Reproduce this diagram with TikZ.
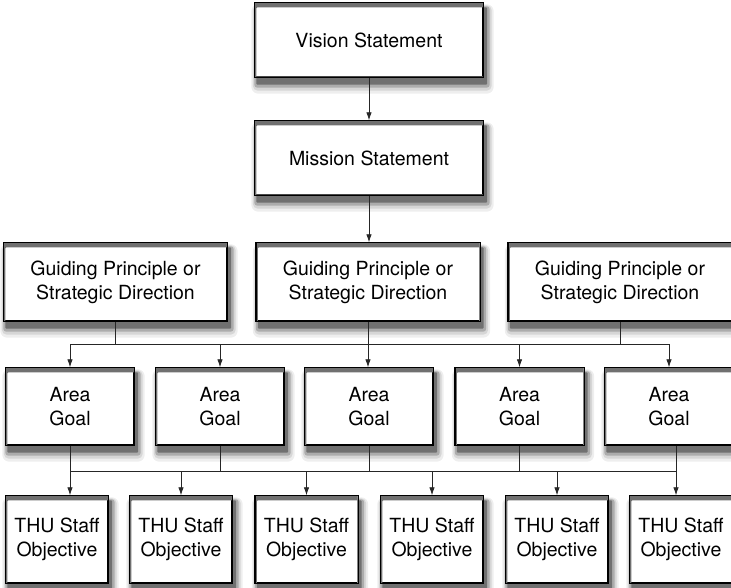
\documentclass[tikz,border=0pt]{standalone}
\usepackage{fontspec}
\setmainfont{TeX Gyre Heros}
\usetikzlibrary{arrows.meta}
\definecolor{shadeA}{RGB}{238,238,238}
\definecolor{shadeB}{RGB}{214,214,214}
\definecolor{shadeC}{RGB}{172,172,172}
\definecolor{shadeD}{RGB}{112,112,112}

\begin{document}
\begin{tikzpicture}[x=1pt, y=-1pt,
    box/.style={rectangle, draw, line width=1.4pt, fill=white, align=center,
        font=\fontsize{19.5}{24}\selectfont, inner sep=0pt},
    topbox/.style={box, minimum width=228pt, minimum height=74pt},
    gpbox/.style={box, minimum width=223pt, minimum height=78pt},
    areabox/.style={box, minimum width=128pt, minimum height=77pt},
    objbox/.style={box, minimum width=102pt, minimum height=87pt},
    link/.style={line width=0.8pt, black!85},
    arr/.style={link, -{Latex[length=8pt, width=5.5pt]}}]
    \useasboundingbox (0,0) rectangle (731,588);
    % top of the chain
    \node[topbox] (vision) at (369, 40) {Vision Statement};
    \node[topbox] (mission) at (369, 158) {Mission Statement};
    % guiding principles
    \node[gpbox] (gp1) at (115.5, 282) {Guiding Principle or\\Strategic Direction};
    \node[gpbox] (gp2) at (368, 282) {Guiding Principle or\\Strategic Direction};
    \node[gpbox] (gp3) at (620, 282) {Guiding Principle or\\Strategic Direction};
    % area goals
    \node[areabox] (a1) at (70, 406.5) {Area\\Goal};
    \node[areabox] (a2) at (220, 406.5) {Area\\Goal};
    \node[areabox] (a3) at (369, 406.5) {Area\\Goal};
    \node[areabox] (a4) at (519.5, 406.5) {Area\\Goal};
    \node[areabox] (a5) at (669, 406.5) {Area\\Goal};
    % staff objectives
    \node[objbox] (t1) at (57, 539.5) {THU Staff\\Objective};
    \node[objbox] (t2) at (181, 539.5) {THU Staff\\Objective};
    \node[objbox] (t3) at (306.5, 539.5) {THU Staff\\Objective};
    \node[objbox] (t4) at (432, 539.5) {THU Staff\\Objective};
    \node[objbox] (t5) at (557, 539.5) {THU Staff\\Objective};
    \node[objbox] (t6) at (681, 539.5) {THU Staff\\Objective};
    \coordinate (bus1) at (0, 344);
    \coordinate (bus2) at (0, 471);
    \coordinate (d6) at (676, 471);

    % soft shadows round the boxes (only outside each box)
    \foreach \n in {vision, mission, gp1, gp2, gp3, a1, a2, a3, a4, a5, t1, t2, t3, t4, t5, t6} {
        \fill[shadeA, even odd rule, rounded corners=7pt] ([shift={(-3,2)}]\n.north west) rectangle ([shift={(10,16)}]\n.south east)
            ([shift={(0.7,0.7)}]\n.north west) [sharp corners] rectangle ([shift={(-0.7,-0.7)}]\n.south east);
        \fill[shadeB, even odd rule, rounded corners=5pt] ([shift={(-1.5,3)}]\n.north west) rectangle ([shift={(8,13)}]\n.south east)
            ([shift={(0.7,0.7)}]\n.north west) [sharp corners] rectangle ([shift={(-0.7,-0.7)}]\n.south east);
        \fill[shadeC, even odd rule, rounded corners=3pt] ([shift={(0,4)}]\n.north west) rectangle ([shift={(6,10)}]\n.south east)
            ([shift={(0.7,0.7)}]\n.north west) [sharp corners] rectangle ([shift={(-0.7,-0.7)}]\n.south east);
        \fill[shadeD, even odd rule, rounded corners=1pt] ([shift={(2,5)}]\n.north west) rectangle ([shift={(3.5,7)}]\n.south east)
            ([shift={(0.7,0.7)}]\n.north west) [sharp corners] rectangle ([shift={(-0.7,-0.7)}]\n.south east);
        \draw[line width=1.4pt] (\n.north west) rectangle (\n.south east);
    }

    \draw[arr] (vision) -- (mission);
    \draw[arr] (mission.south) -- (mission.south |- gp2.north);

    \draw[link] (gp1.south) -- (gp1.south |- bus1);
    \draw[link] (gp3.south) -- (gp3.south |- bus1);
    \draw[link] (a1.north |- bus1) -- (a5.north |- bus1);
    \draw[arr] (gp2.south) -- (gp2.south |- a3.north);
    \foreach \a in {a1, a2, a4, a5}
        \draw[arr] (\a.north |- bus1) -- (\a.north);

    \draw[link] (a1.south |- bus2) -- (d6);
    \draw[arr] (a1.south) -- (a1.south |- t1.north);
    \draw[arr] (d6 |- a5.south) -- (d6 |- t6.north);
    \foreach \a in {a2, a3, a4}
        \draw[link] (\a.south) -- (\a.south |- bus2);
    \foreach \t in {t2, t3, t4, t5}
        \draw[arr] (\t.north |- bus2) -- (\t.north);
\end{tikzpicture}
\end{document}
